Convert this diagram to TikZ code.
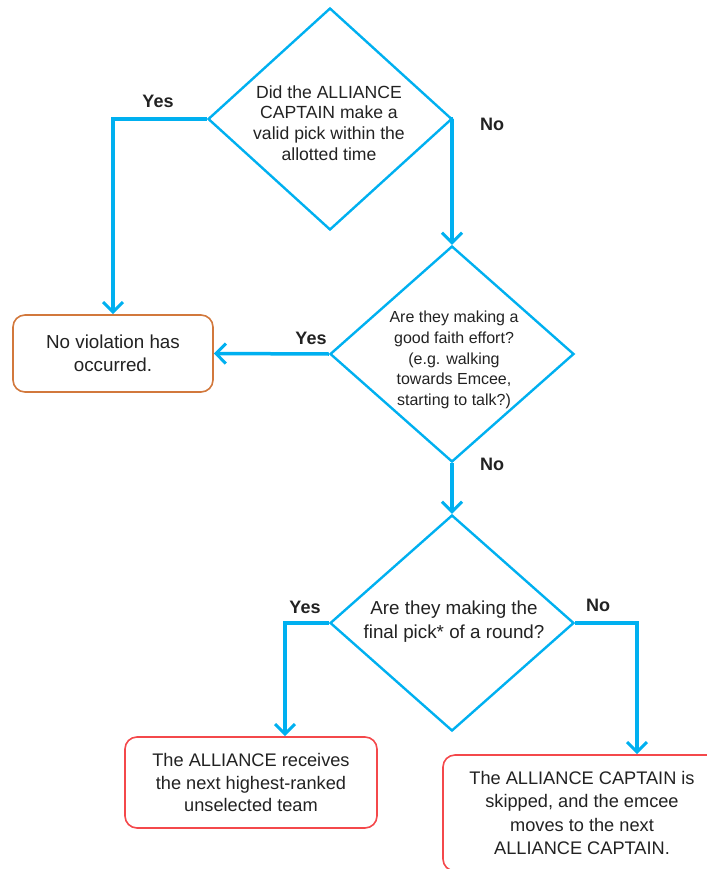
\documentclass[tikz,border=0pt]{standalone}
\usepackage{fontspec}
\setmainfont{Liberation Sans}
\usetikzlibrary{shapes.geometric,arrows.meta}
\definecolor{flowblue}{HTML}{00B0F0}
\definecolor{okorange}{HTML}{D2783C}
\definecolor{skipred}{HTML}{F4484B}
\definecolor{inkgrey}{HTML}{222222}

\begin{document}
\begin{tikzpicture}[x=1pt,y=-1pt,
	question/.style={shape=diamond,draw=flowblue,line width=2.4pt,minimum width=244pt,minimum height=216pt,inner sep=0pt},
	qtext/.style={align=center,text=inkgrey},
	outcome/.style={shape=rectangle,rounded corners=12pt,line width=1.6pt,fill=white,align=center,inner sep=0pt,text=inkgrey},
	flow/.style={draw=flowblue,line width=3.5pt,-{Straight Barb[length=10pt,width=20pt,line width=3pt]}},
	answer/.style={font=\bfseries\fontsize{18}{20}\selectfont,text=inkgrey}]
		\useasboundingbox (0,0) rectangle (706,869);
		% questions
		\node [question,minimum height=222pt] (Q1) at (330,119) {};
		\node [qtext,font=\fontsize{17.6}{20.6}\selectfont] (Q1t) at (329,123) {Did the ALLIANCE\\CAPTAIN make a\\valid pick within the\\allotted time};
		\node [question] (Q2) at (452,354) {};
		\node [qtext,font=\fontsize{16}{20.6}\selectfont] (Q2t) at (454,360) {Are they making a\\good faith effort?\\(e.g. walking\\towards Emcee,\\starting to talk?)};
		\node [question] (Q3) at (452,623) {};
		\node [qtext,font=\fontsize{18.8}{24}\selectfont] (Q3t) at (454,622) {Are they making the\\final pick* of a round?};
		% outcomes
		\node [outcome,draw=okorange,minimum width=200pt,minimum height=77pt,font=\fontsize{18.8}{23}\selectfont] (B1) at (113,353.5) {No violation has\\occurred.};
		\node [outcome,draw=skipred,minimum width=252pt,minimum height=91pt,font=\fontsize{18.2}{22.5}\selectfont] (B2) at (251,782.5) {The ALLIANCE receives\\the next highest-ranked\\unselected team};
		\node [outcome,draw=skipred,minimum width=278pt,minimum height=116pt,font=\fontsize{18.2}{23.5}\selectfont] (B3) at (582,813) {The ALLIANCE CAPTAIN is\\skipped, and the emcee\\moves to the next\\ALLIANCE CAPTAIN.};
		% connectors
		\draw [flow] (Q1.west) -| (B1.north);
		\draw [flow] (Q1.east) -| (Q2.north);
		\draw [flow] (Q2.west) -- (B1.east);
		\draw [flow] (Q2.south) -- (Q3.north);
		\draw [flow] (Q3.west) -| ([xshift=34pt]B2.north);
		\draw [flow] (Q3.east) -| ([xshift=55pt]B3.north);
		% answers
		\node [answer] (A1y) at (158,101) {Yes};
		\node [answer] (A1n) at (492,124) {No};
		\node [answer] (A2y) at (311,338) {Yes};
		\node [answer] (A2n) at (492,464) {No};
		\node [answer] (A3y) at (305,607) {Yes};
		\node [answer] (A3n) at (598,605) {No};
	\end{tikzpicture}
\end{document}
